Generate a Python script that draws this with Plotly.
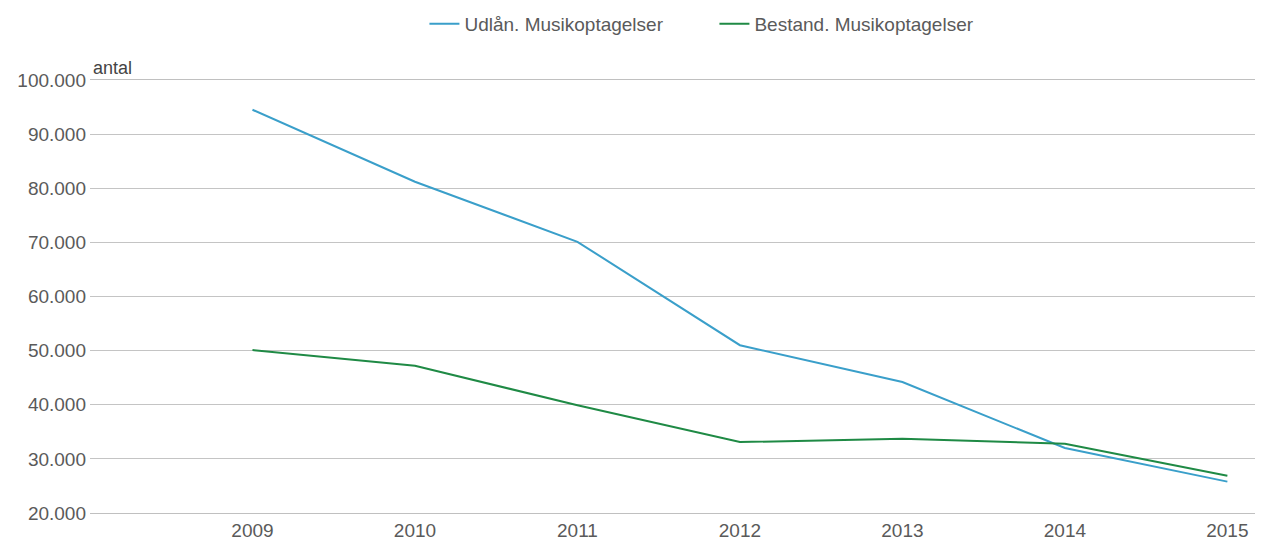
import plotly.graph_objects as go

years = [2009, 2010, 2011, 2012, 2013, 2014, 2015]
udlaan = [94500, 81200, 70100, 51000, 44200, 32000, 25800]
bestand = [50100, 47200, 39900, 33100, 33700, 32800, 26900]
y_ticks = [20000, 30000, 40000, 50000, 60000, 70000, 80000, 90000, 100000]

fig = go.Figure()
fig.add_trace(go.Scatter(x=years, y=udlaan, mode="lines", name="Udlån. Musikoptagelser",
                         line=dict(color="#3a9fca", width=2)))
fig.add_trace(go.Scatter(x=years, y=bestand, mode="lines", name="Bestand. Musikoptagelser",
                         line=dict(color="#1f8a45", width=2)))

fig.update_layout(
    width=1266, height=546,
    margin=dict(l=82, r=19, t=72, b=41, autoexpand=False),
    paper_bgcolor="white", plot_bgcolor="white",
    separators=",.",
    font=dict(family="Liberation Sans, Arial, sans-serif", size=18, color="#5a5a5a"),
    showlegend=True,
    legend=dict(orientation="h", xref="container", yref="container",
                x=0.558, xanchor="center", y=1 - 16 / 546, yanchor="middle",
                font=dict(size=19, color="#5a5a5a"), bgcolor="rgba(0,0,0,0)",
                itemwidth=30, entrywidth=245),
    xaxis=dict(range=[2008.0, 2015.17], tickvals=years, ticktext=[str(y) for y in years],
               showgrid=False, zeroline=False, showline=True, mirror=True,
               linecolor="#c0c0c0", linewidth=1, ticks="", automargin=False,
               tickfont=dict(size=19, color="#5a5a5a")),
    yaxis=dict(range=[20000, 100000], tickvals=y_ticks, tickformat=",d",
               showgrid=True, gridcolor="#c4c4c4", gridwidth=1, zeroline=False,
               showline=False, ticks="", ticklabelstandoff=3, automargin=False,
               tickfont=dict(size=19, color="#5a5a5a")),
    annotations=[dict(text="antal", xref="paper", yref="paper", x=0.0, y=1.0,
                      xanchor="left", yanchor="bottom", showarrow=False, xshift=1, yshift=0,
                      font=dict(size=18, color="#444444"))],
)
fig.write_html("out.html")
